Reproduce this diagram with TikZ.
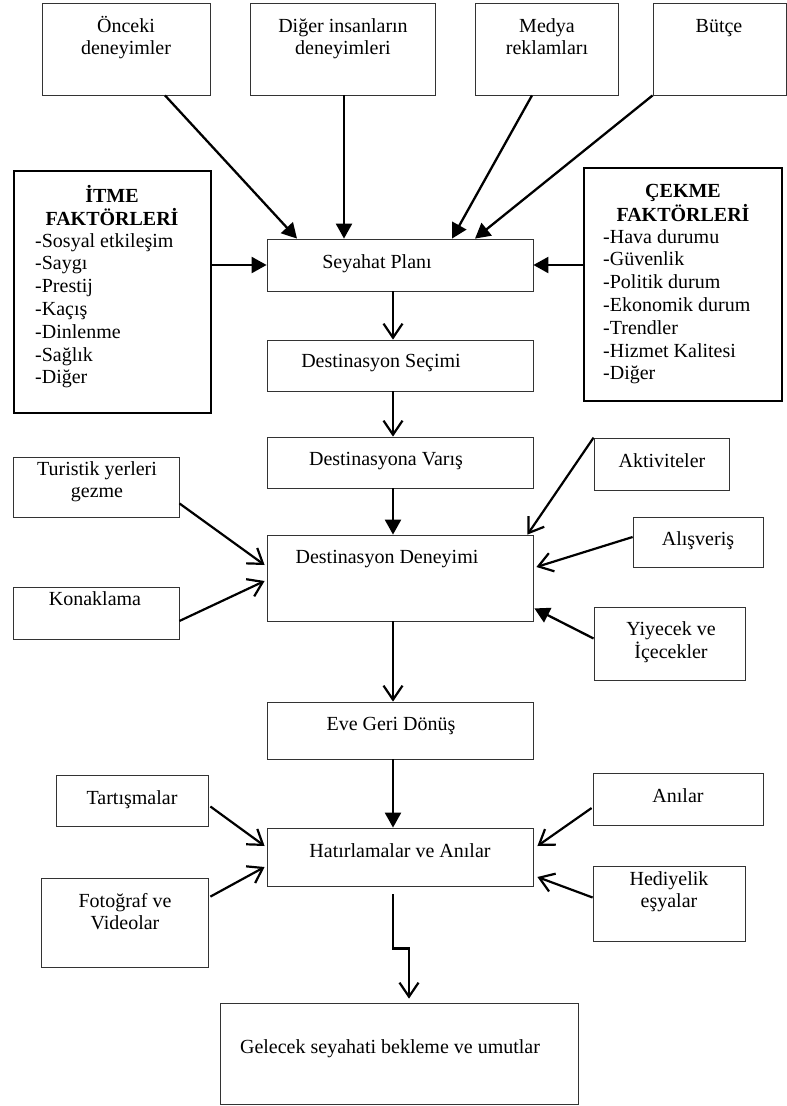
\documentclass[tikz,border=0pt]{standalone}
\usepackage{fontspec}
\setmainfont{Liberation Serif}
\usetikzlibrary{arrows.meta,calc}
\tikzset{
  box/.style 2 args={draw=black!80, line width=0.8pt, inner sep=0pt, minimum width=#1pt, minimum height=#2pt},
  thickbox/.style 2 args={draw=black, line width=2pt, inner sep=0pt, minimum width=#1pt, minimum height=#2pt},
  txt/.style={inner sep=0pt, anchor=base, font=\fontsize{20}{22.8}\selectfont},
  farr/.style={line width=2.3pt, -{Triangle[length=15pt,width=16pt]}},
  oarr/.style={line width=2.2pt, -{Straight Barb[length=14pt,width=19pt]}}
}
\newcommand{\ctab}[1]{\begin{tabular}[t]{@{}c@{}}#1\end{tabular}}
\newcommand{\ltab}[1]{\begin{tabular}[t]{@{}l@{}}#1\end{tabular}}
\begin{document}
\begin{tikzpicture}[x=1pt,y=-1pt]
\useasboundingbox[fill=white] (0,0) rectangle (787,1106);
% boxes
\node[box={168}{92}] (onc) at (126,49) {};
\node[box={185}{92}] (dig) at (342.5,49) {};
\node[box={143}{92}] (med) at (546.5,49) {};
\node[box={133}{92}] (but) at (719.5,49) {};
\node[thickbox={197}{242}] (itme) at (112.5,292) {};
\node[thickbox={198}{233}] (cekme) at (683,284.5) {};
\node[box={266}{52}] (plan) at (400,265) {};
\node[box={266}{51}] (secim) at (400,365.5) {};
\node[box={266}{51}] (varis) at (400,462.5) {};
\node[box={266}{86}] (deney) at (400,578) {};
\node[box={266}{57}] (eve) at (400,730.5) {};
\node[box={266}{58}] (hatir) at (400,857) {};
\node[box={358}{101}] (gelecek) at (399,1053.5) {};
\node[box={166}{60}] (turistik) at (96,487) {};
\node[box={166}{52}] (konak) at (96,613) {};
\node[box={135}{52}] (aktiv) at (661.5,464) {};
\node[box={130}{50}] (alis) at (698,542) {};
\node[box={151}{73}] (yiyecek) at (669.5,643.5) {};
\node[box={152}{51}] (tart) at (132,800.5) {};
\node[box={167}{89}] (foto) at (124.5,922.5) {};
\node[box={170}{52}] (anilar) at (678,799) {};
\node[box={152}{75}] (hediye) at (669,903.5) {};
% texts
\node[txt] (onc-t) at (126,32) {\ctab{Önceki\\deneyimler}};
\node[txt] (dig-t) at (343,32) {\ctab{Diğer insanların\\deneyimleri}};
\node[txt] (med-t) at (547,32) {\ctab{Medya\\reklamları}};
\node[txt] (but-t) at (719,32) {Bütçe};
\node[txt, font=\fontsize{20}{21.5}\selectfont\bfseries] (itme-h) at (112,202) {\ctab{İTME\\FAKTÖRLERİ}};
\node[txt, anchor=base west] (itme-l) at (35,247) {\ltab{-Sosyal etkileşim\\-Saygı\\-Prestij\\-Kaçış\\-Dinlenme\\-Sağlık\\-Diğer}};
\node[txt, font=\fontsize{20}{23}\selectfont\bfseries] (cekme-h) at (683,197) {\ctab{ÇEKME\\FAKTÖRLERİ}};
\node[txt, anchor=base west] (cekme-l) at (603,243) {\ltab{-Hava durumu\\-Güvenlik\\-Politik durum\\-Ekonomik durum\\-Trendler\\-Hizmet Kalitesi\\-Diğer}};
\node[txt] (plan-t) at (377,268) {Seyahat Planı};
\node[txt] (secim-t) at (381,367) {Destinasyon Seçimi};
\node[txt] (varis-t) at (386,465) {Destinasyona Varış};
\node[txt] (deney-t) at (387,563) {Destinasyon Deneyimi};
\node[txt] (eve-t) at (391,730) {Eve Geri Dönüş};
\node[txt] (hatir-t) at (400,857) {Hatırlamalar ve Anılar};
\node[txt] (gel-t) at (390,1053) {Gelecek seyahati bekleme ve umutlar};
\node[txt] (tur-t) at (97,475) {\ctab{Turistik yerleri\\gezme}};
\node[txt] (kon-t) at (95,605) {Konaklama};
\node[txt] (akt-t) at (662,467) {Aktiviteler};
\node[txt] (alis-t) at (698,545) {Alışveriş};
\node[txt] (yiy-t) at (671,635) {\ctab{Yiyecek ve\\İçecekler}};
\node[txt] (tart-t) at (132,804) {Tartışmalar};
\node[txt] (foto-t) at (125,907) {\ctab{Fotoğraf ve\\Videolar}};
\node[txt] (anil-t) at (678,802) {Anılar};
\node[txt] (hed-t) at (669,885) {\ctab{Hediyelik\\eşyalar}};
% top arrows
\draw[farr] ($(onc.south)+(39,0)$) -- ($(plan.north)+(-103,0)$);
\draw[farr] ($(dig.south)+(1.5,0)$) -- ($(plan.north)+(-56,0)$);
\draw[farr] ($(med.south)+(-14.5,0)$) -- ($(plan.north)+(52,0)$);
\draw[farr] (but.south west) -- ($(plan.north)+(75,0)$);
\draw[farr] (itme.east |- plan.west) -- (plan.west);
\draw[farr] (cekme.west |- plan.east) -- (plan.east);
% main chain
\draw[oarr] ($(plan.south)+(-7,0)$) -- ($(secim.north)+(-7,0)$);
\draw[oarr] ($(secim.south)+(-7,0)$) -- ($(varis.north)+(-7,0)$);
\draw[farr] ($(varis.south)+(-7,0)$) -- ($(deney.north)+(-7,0)$);
\draw[oarr] ($(deney.south)+(-7,0)$) -- ($(eve.north)+(-7,0)$);
\draw[farr] ($(eve.south)+(-7,0)$) -- ($(hatir.north)+(-7,0)$);
\draw[oarr] ($(hatir.south)+(-7,8)$) -- ++(0,54) -| ($(gelecek.north)+(10,-4)$);
% side arrows
\draw[oarr] ($(turistik.south east)+(0,-14)$) -- ($(deney.west)+(-2,-13)$);
\draw[oarr] ($(konak.east)+(0,8)$) -- ($(deney.west)+(-2,3)$);
\draw[oarr] (aktiv.north west) -- ($(deney.north east)+(-6,0)$);
\draw[oarr] ($(alis.west)+(0,-5)$) -- ($(deney.east)+(3,-11)$);
\draw[farr] ($(yiyecek.west)+(0,-5)$) -- ($(deney.south east)+(1,-13)$);
\draw[oarr] ($(tart.east)+(2,6)$) -- ($(hatir.west)+(-2,-11)$);
\draw[oarr] ($(foto.north east)+(2,19)$) -- ($(hatir.west)+(-2,10)$);
\draw[oarr] ($(anilar.west)+(-1,9)$) -- ($(hatir.east)+(4,-11)$);
\draw[oarr] ($(hediye.west)+(0,-6)$) -- ($(hatir.east)+(4,20)$);
\end{tikzpicture}
\end{document}
